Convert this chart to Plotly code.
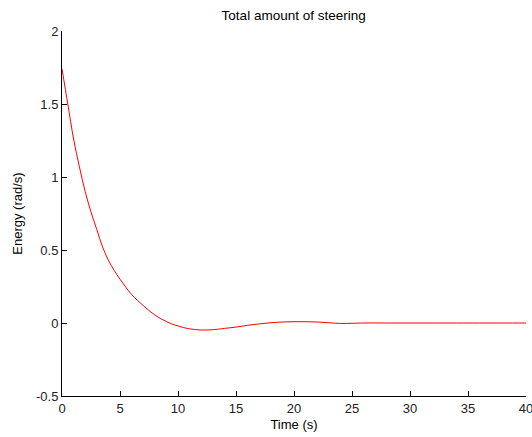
import plotly.graph_objects as go

time_s = [0, 0.5, 1, 1.5, 2, 2.5, 3, 3.5, 4, 4.5, 5, 5.5, 6, 6.5, 7, 7.5, 8, 8.5, 9, 9.5,
          10, 10.5, 11, 11.5, 12, 12.5, 13, 13.5, 14, 15, 16, 17, 18, 19, 20, 21, 22, 23,
          24, 25, 26, 28, 30, 32, 34, 36, 38, 40]
energy = [1.74, 1.50, 1.26, 1.07, 0.90, 0.76, 0.64, 0.52, 0.43, 0.36, 0.30, 0.245, 0.195,
          0.155, 0.12, 0.085, 0.055, 0.03, 0.01, -0.008, -0.02, -0.032, -0.04, -0.045,
          -0.048, -0.048, -0.046, -0.042, -0.037, -0.028, -0.016, -0.006, 0.002, 0.007,
          0.009, 0.009, 0.007, 0.002, -0.003, -0.002, 0, 0, 0, 0, 0, 0, 0, 0]

x_ticks = [0, 5, 10, 15, 20, 25, 30, 35, 40]
y_ticks = [-0.5, 0, 0.5, 1, 1.5, 2]
y_tick_labels = ["-0.5", "0", "0.5", "1", "1.5", "2"]

fig = go.Figure()
fig.add_trace(go.Scatter(x=time_s, y=energy, mode="lines",
                         line=dict(color="#ff0000", width=1, shape="spline")))

fam = "Liberation Sans, Arial"
fig.update_layout(
    width=532, height=437,
    margin=dict(l=62, r=6, t=31, b=41),
    paper_bgcolor="white", plot_bgcolor="white",
    showlegend=False,
    font=dict(family=fam, size=13, color="#222222"),
    title=dict(text="Total amount of steering", x=0.552, xanchor="center", y=0.966, yanchor="middle",
               font=dict(family=fam, size=13.5, color="#000000")),
    xaxis=dict(range=[0, 40], tickvals=x_ticks, ticks="inside", ticklen=5, tickcolor="black",
               ticklabeloverflow="allow", automargin=False,
               showline=True, linecolor="black", linewidth=1, showgrid=False, zeroline=False,
               title=dict(text="Time (s)", standoff=5, font=dict(family=fam, size=13, color="#000000"))),
    yaxis=dict(range=[-0.5, 2], tickvals=y_ticks, ticktext=y_tick_labels, ticks="inside", ticklen=5,
               tickcolor="black", showline=True, linecolor="black", linewidth=1, showgrid=False,
               zeroline=False, automargin=False,
               title=dict(text="Energy (rad/s)", standoff=10, font=dict(family=fam, size=13, color="#000000"))),
)
fig.write_html("out.html")
